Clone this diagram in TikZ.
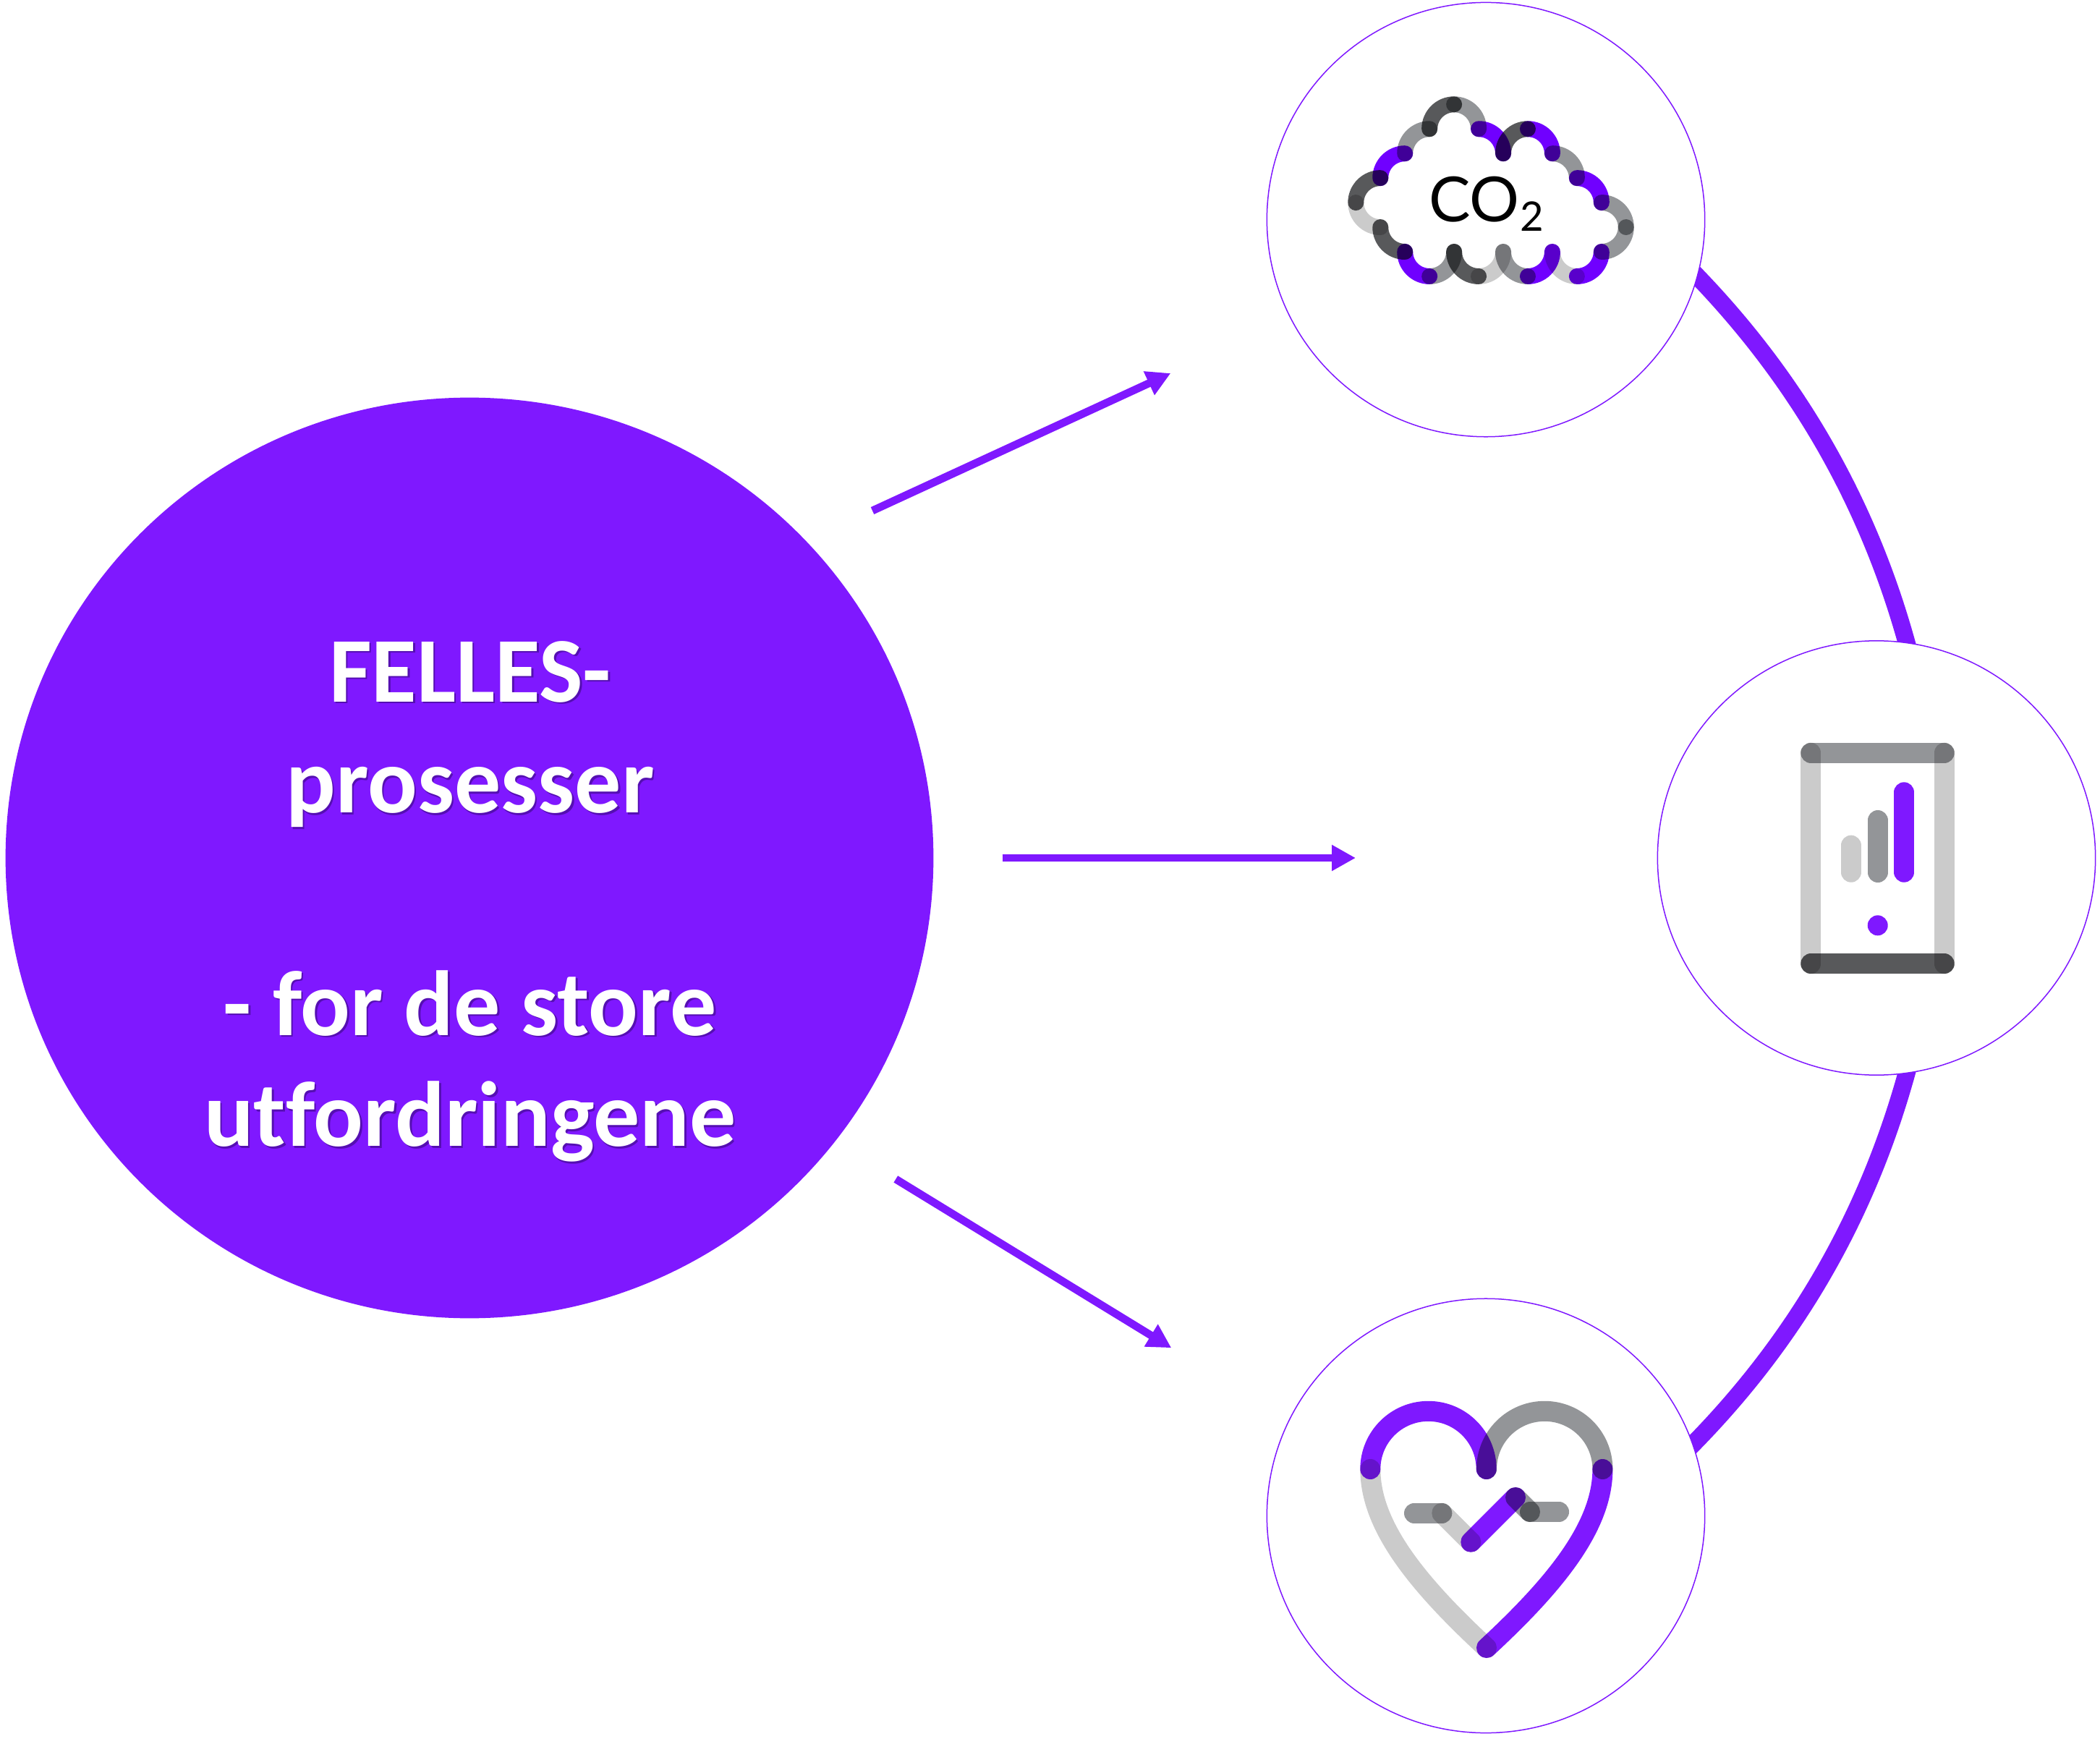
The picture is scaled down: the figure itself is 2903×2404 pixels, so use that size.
\documentclass[tikz,border=0pt]{standalone}
\usepackage{fontspec}
\setmainfont[Ligatures=NoCommon]{Carlito}
\newfontfamily\cofont{Lato}
\usetikzlibrary{arrows.meta,shapes.geometric,backgrounds}
\definecolor{vio}{HTML}{7F18FF}
\definecolor{cvio}{HTML}{7000FF}
\definecolor{mg}{HTML}{939598}
\definecolor{dk}{HTML}{58595B}
\definecolor{lg}{HTML}{CBCBCB}
\definecolor{shade}{HTML}{3A0A80}
\tikzset{
  hubdisc/.style={ellipse,fill=vio,minimum width=12.82cm,minimum height=12.72cm,inner sep=0pt,outer sep=0pt},
  themedisc/.style={ellipse,draw=vio,line width=.015cm,fill=white,minimum width=6.05cm,minimum height=6.0cm,inner sep=0pt,outer sep=0pt},
  hubtext/.style={align=center,font=\fontsize{36.4}{43.7}\selectfont\bfseries,inner sep=0pt},
  ray/.style={draw=vio,line width=.108cm,-{Triangle[length=.33cm,width=.34cm]}},
  rim/.style={draw=vio,line width=.24cm,shorten <=-.12cm,shorten >=-.12cm},
  cseg/.style={line width=.22cm,line cap=round},
  hseg/.style={line width=.28cm,line cap=round},
}
\begin{document}
\begin{tikzpicture}[x=.01cm,y=.01cm,yscale=-1]
\useasboundingbox (0,0) rectangle (2903,2404);
\node[hubdisc] (hub) at (649,1186) {};
\node[themedisc] (co2) at (2054,303.6) {};
\node[themedisc] (phone) at (2594,1186) {};
\node[themedisc] (heart) at (2054,2095.4) {};
\begin{scope}[on background layer]
\draw[rim] (co2.-15) .. controls +(45.6:198) and +(-105:198) .. (phone.82);
\draw[rim] (phone.-82) .. controls +(105:202) and +(-45:202) .. (heart.19);
\end{scope}
% hub text
\node[hubtext,text=shade,opacity=.6] (hubshadow) at (652.5,1249) {FELLES-\\prosesser\\[0pt]\mbox{}\\- for de store\\utfordringene};
\node[hubtext,text=white] (hublabel) at (650,1246.5) {FELLES-\\prosesser\\[0pt]\mbox{}\\- for de store\\utfordringene};
% arrows
\coordinate (r1s) at (1206,706); \coordinate (r1e) at (1618.3,516);
\coordinate (r2s) at (1385.7,1186); \coordinate (r2e) at (1874,1186);
\coordinate (r3s) at (1238.3,1630); \coordinate (r3e) at (1619.3,1863.3);
\draw[ray] (r1s) -- (r1e);
\draw[ray] (r2s) -- (r2e);
\draw[ray] (r3s) -- (r3e);
% cloud
\begin{scope}[blend mode=multiply]
\foreach \c/\k/\l/\a in {dk/1/4/180,cvio/2/3/180,mg/3/2/180,dk/4/1/180,mg/4/1/270,cvio/5/2/270,dk/7/2/180,cvio/7/2/270,mg/8/3/270,cvio/9/4/270,mg/10/5/270,mg/10/5/0,cvio/9/6/0,lg/9/6/90,cvio/7/6/0,mg/7/6/90,lg/5/6/0,dk/5/6/90,mg/3/6/0,cvio/3/6/90,dk/2/5/90,lg/1/4/90}{
  \draw[cseg,\c] ([shift={(\a:33.95)}]{1874.3+33.95*\k},{144.3+33.95*\l}) arc[start angle=\a,delta angle=90,radius=33.95];
}
% heart
\draw[hseg,vio] (1894.3,2031) arc[start angle=180,delta angle=180,radius=80.2];
\draw[hseg,mg] (2055,2031) arc[start angle=180,delta angle=180,radius=80.2];
\draw[hseg,lg] (1894.3,2031) .. controls (1894.3,2110) and (1960,2190) .. (2055,2278);
\draw[hseg,vio] (2215.4,2031) .. controls (2215.4,2110) and (2150,2190) .. (2055,2278);
\draw[hseg,mg] (1955,2091.7) -- (1993.3,2091.7);
\draw[hseg,lg] (1993.3,2091.7) -- (2033.3,2131.7);
\draw[hseg,vio] (2033.3,2131.7) -- (2095,2070);
\draw[hseg,mg] (2095,2070) -- (2115,2090);
\draw[hseg,mg] (2115,2090) -- (2155,2090);
% phone
\draw[hseg,lg] (2503.3,1040.7) -- (2503.3,1332.3);
\draw[hseg,lg] (2687.7,1040.7) -- (2687.7,1332.3);
\draw[hseg,mg] (2503.3,1040.7) -- (2687.7,1040.7);
\draw[hseg,dk] (2503.3,1332.3) -- (2687.7,1332.3);
\draw[hseg,lg] (2558.7,1168.7) -- (2558.7,1205.7);
\draw[hseg,mg] (2595.7,1134) -- (2595.7,1206);
\draw[hseg,vio] (2632.3,1095.3) -- (2632.3,1205.7);
\fill[vio] (2595.7,1279.3) circle[radius=14];
\end{scope}
\node[font=\cofont\fontsize{24.5}{25}\selectfont,inner sep=0pt,anchor=base] (co2text) at (2055,307) {CO\kern.01cm\raisebox{-.13cm}{\fontsize{16}{16}\selectfont 2}};
\end{tikzpicture}
\end{document}
